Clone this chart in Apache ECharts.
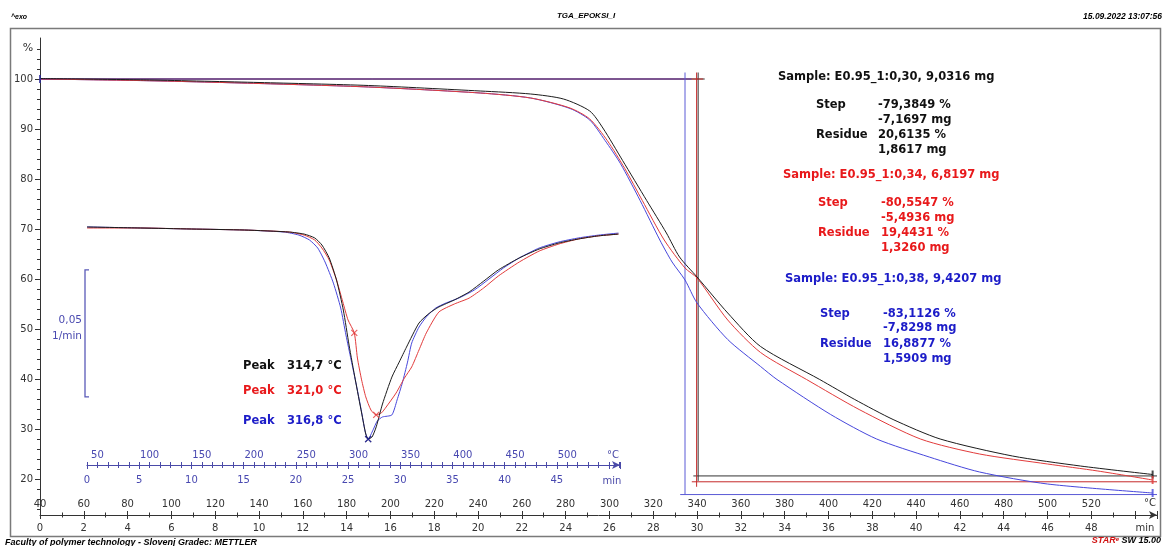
<!DOCTYPE html>
<html><head><meta charset="utf-8">
<script src="https://cdn.jsdelivr.net/npm/echarts@6/dist/echarts.min.js"></script>
<style>html,body{margin:0;padding:0;background:#fff}#c{width:1163px;height:546px}</style>
</head><body><div id="c"></div>
<script>
// ---------- DATA ----------
// Main TGA curves: [time (min), mass (%)]
const tgaBlack = [[0,100.1],[5,99.8],[10,99.3],[15,98.7],[20.1,97.6],[22.4,97.0],[23.9,96.0],[25.1,93.6],[25.7,90.2],[26.6,83.7],[27.7,75.7],[28.6,69.2],[29.2,64.4],[30.0,60.4],[31.4,53.2],[32.9,46.5],[35.6,39.9],[37.2,35.9],[38.95,31.9],[41.1,28.0],[44.4,24.6],[47.5,22.6],[50.8,20.9]];
const tgaRed   = [[0,100.0],[5,99.65],[10,99.1],[15,98.4],[20.1,97.2],[22.4,96.2],[24.2,94.2],[25.1,92.0],[25.9,87.7],[26.7,82.1],[27.5,75.7],[28.5,67.8],[29.45,62.2],[30.0,60.2],[31.4,51.8],[32.9,45.3],[35.0,39.9],[37.4,33.9],[40.2,28.0],[42.9,25.0],[46.0,23.0],[48.3,21.6],[50.8,19.8]];
const tgaBlue  = [[0,100.0],[5,99.65],[10,99.1],[15,98.4],[20.1,97.2],[22.4,96.2],[24.2,94.1],[25.1,91.8],[25.8,87.7],[26.5,83.1],[27.4,75.7],[28.3,67.8],[28.86,63.4],[29.45,59.8],[30.0,55.2],[31.4,47.9],[32.9,42.5],[33.65,39.9],[36.1,32.9],[38.2,28.0],[40.6,24.4],[42.9,21.4],[46.0,19.0],[50.8,17.2]];
// Inset DTG curves: [time (min), dm/dt (1/min)]
const dtgBlack = [[0,0.0004],[5.1,0],[10.0,-0.0004],[15.1,-0.0008],[19.4,-0.0016],[20.8,-0.0024],[21.8,-0.0039],[22.5,-0.0067],[23.2,-0.0118],[23.9,-0.0205],[24.55,-0.0323],[25.1,-0.0461],[25.7,-0.0598],[26.3,-0.0728],[26.7,-0.0811],[26.93,-0.0831],[27.3,-0.0823],[27.7,-0.0783],[28.3,-0.0693],[29.2,-0.0587],[29.9,-0.0528],[30.6,-0.0469],[31.8,-0.0374],[32.8,-0.0335],[33.7,-0.0311],[35.2,-0.0283],[36.6,-0.0252],[38.0,-0.0209],[39.4,-0.0165],[41.4,-0.0118],[43.3,-0.0083],[45.2,-0.0059],[47.1,-0.0043],[49.0,-0.0031],[50.9,-0.0024]];
const dtgRed   = [[0,0],[5.1,0],[10.0,-0.0004],[15.1,-0.0008],[19.4,-0.0016],[20.8,-0.0028],[21.8,-0.0047],[22.5,-0.0079],[23.2,-0.0126],[23.9,-0.0205],[24.5,-0.0291],[25.0,-0.0362],[25.6,-0.0413],[25.9,-0.0512],[26.3,-0.0598],[26.7,-0.0665],[27.2,-0.0717],[27.7,-0.0736],[28.2,-0.0728],[28.65,-0.0705],[29.6,-0.0650],[30.4,-0.0591],[31.1,-0.0547],[31.8,-0.0480],[32.5,-0.0413],[33.7,-0.0331],[35.2,-0.0299],[36.6,-0.0276],[38.0,-0.0236],[39.4,-0.0189],[41.4,-0.0134],[43.3,-0.0091],[45.2,-0.0063],[47.1,-0.0043],[49.0,-0.0031],[50.9,-0.0024]];
const dtgBlue  = [[0,0.0004],[5.1,0],[10.0,-0.0004],[15.1,-0.0008],[18.9,-0.0016],[20.3,-0.0028],[21.3,-0.0047],[22.1,-0.0079],[22.8,-0.0134],[23.6,-0.0217],[24.3,-0.0315],[24.8,-0.0421],[25.3,-0.0520],[25.8,-0.0618],[26.3,-0.0724],[26.65,-0.0803],[26.93,-0.0831],[27.4,-0.0795],[27.8,-0.0760],[28.3,-0.0744],[29.2,-0.0736],[29.7,-0.0677],[30.2,-0.0610],[30.7,-0.0528],[31.1,-0.0453],[31.8,-0.0390],[32.5,-0.0350],[33.4,-0.0315],[34.4,-0.0295],[35.6,-0.0276],[37.1,-0.0244],[38.5,-0.0201],[39.9,-0.0157],[41.4,-0.0118],[43.3,-0.0079],[45.2,-0.0055],[47.1,-0.0039],[49.0,-0.0028],[50.9,-0.0020]];
// Peak markers on DTG: [time, value]
const peakBlack = [[26.93,-0.0831]];
const peakRed   = [[25.6,-0.0413],[27.7,-0.0736]];
const peakBlue  = [[26.93,-0.0831]];
// Step evaluation (black, red, blue)
const startLevel = 100;
const limitTime  = [30.05, 29.98, 29.45];
const residueLvl = [20.6135, 19.4431, 16.8877];
// Scale bar for DTG: top value and span (1/min)
const scaleBarTop = -0.0165, scaleBarSpan = 0.05;
// Tick values
const yMajor = [20,30,40,50,60,70,80,90,100];
const yMinor = [14,16,18,22,24,26,28,32,34,36,38,42,44,46,48,52,54,56,58,62,64,66,68,72,74,76,78,82,84,86,88,92,94,96,98,102,104,106];
// Texts
const sampleNames = ['Sample: E0.95_1:0,30, 9,0316 mg','Sample: E0.95_1:0,34, 6,8197 mg','Sample: E0.95_1:0,38, 9,4207 mg'];
const stepPct  = ['-79,3849 %','-80,5547 %','-83,1126 %'];
const stepMg   = ['-7,1697 mg','-5,4936 mg','-7,8298 mg'];
const resPct   = ['20,6135 %','19,4431 %','16,8877 %'];
const resMg    = ['1,8617 mg','1,3260 mg','1,5909 mg'];
const peakText = ['314,7 °C','321,0 °C','316,8 °C'];

// ---------- STYLE ----------
const C = ['#1c1c1c','#e23b3b','#4747dc'];
const T = ['#111111','#e8191b','#1c1cc8'];
const AXI = '#4a4aa8';
const F = 'DejaVu Sans';

const chart = echarts.init(document.getElementById('c'));

function ln(data, color, xi, yi, extra){
  return Object.assign({type:'line', data, xAxisIndex:xi, yAxisIndex:yi, showSymbol:false, symbol:'none',
    lineStyle:{color, width:1}, itemStyle:{color}, silent:true, z:3}, extra||{});
}
const series = [];
for (let i=0;i<3;i++){
  const lt = limitTime[i], r = residueLvl[i];
  const vc = i===0 ? '#333' : (i===1 ? '#c52a2a' : '#5a5ad6');
  series.push(ln([[0,startLevel],[lt+0.3,startLevel]], i===2?'#4a4ac0':vc, 0, 0, {z:2}));
  series.push(ln([[lt,101.3],[lt, i===2 ? r : r-1.0]], vc, 0, 0, {z:2}));
  series.push(ln([[lt-0.22,r],[51,r]], vc, 0, 0, {z:2}));
}
series.push(ln(tgaBlue, C[2], 0, 0, {smooth:0.25}));
series.push(ln(tgaRed, C[1], 0, 0, {smooth:0.25}));
series.push(ln(tgaBlack, C[0], 0, 0, {smooth:0.25}));
series.push(ln(dtgBlue, C[2], 2, 2, {smooth:0.2}));
series.push(ln(dtgRed, C[1], 2, 2, {smooth:0.2}));
series.push(ln(dtgBlack, C[0], 2, 2, {smooth:0.2}));
const endMk = (d,c)=>({type:'scatter', xAxisIndex:0, yAxisIndex:0, data:[d], symbol:'rect', symbolSize:[2,8], itemStyle:{color:c}, silent:true, z:5});
series.push(endMk(tgaBlack[tgaBlack.length-1], C[0]));
series.push(endMk(tgaRed[tgaRed.length-1], C[1]));
series.push(endMk(tgaBlue[tgaBlue.length-1], C[2]));
series.push(endMk(tgaBlue[0], '#2a2a9a'));
const cross = 'path://M0 0L10 10M10 0L0 10';
const pk = (d,c)=>({type:'scatter', xAxisIndex:2, yAxisIndex:2, data:d, symbol:cross, symbolSize:6, itemStyle:{color:'none', borderColor:c, borderWidth:1.2}, silent:true, z:5});
series.push(pk(peakRed, C[1]));
series.push(pk(peakBlack, C[0]));
series.push(pk(peakBlue, '#2020b0'));

// ---------- TEXTS ----------
const g = [];
function tx(x,y,text,fill,font,align){ g.push({type:'text', silent:true, z:10, style:{x,y,text,fill,font,align:align||'left',verticalAlign:'middle'}}); }
const bold = 'bold 11.5px "'+F+'"';
tx(11,17,'^exo','#000','bold italic 7px "Liberation Sans"');
tx(586,16,'TGA_EPOKSI_I','#000','bold italic 8px "Liberation Sans"','center');
tx(1162,17,'15.09.2022 13:07:56','#000','bold italic 8.5px "Liberation Sans"','right');
tx(5,543,'Faculty of polymer technology - Slovenj Gradec: METTLER','#000','bold italic 9px "Liberation Sans"');
g.push({type:'text', silent:true, z:10, style:{x:1161,y:541,align:'right',verticalAlign:'middle',
  text:'{r|STAR}{e|e} SW 15.00', fill:'#000', font:'bold italic 9px "Liberation Sans"',
  rich:{r:{fill:'#d01010',font:'bold italic 9px "Liberation Sans"'},e:{fill:'#d01010',font:'bold italic 6px "Liberation Sans"',verticalAlign:'top'}}}});
g.push({type:'rect', silent:true, z:0, shape:{x:10.5,y:28.5,width:1150,height:508}, style:{fill:'none',stroke:'#7a7a7a',lineWidth:1.5}});
tx(28,48,'%','#333','11px "'+F+'"','center');
tx(1150,503,'°C','#333','10px "'+F+'"','center');
tx(1145,528,'min','#333','10px "'+F+'"','center');
tx(613,455,'°C',AXI,'10px "'+F+'"','center');
tx(612,481,'min',AXI,'10px "'+F+'"','center');
tx(82,320,'0,05','#4a4ab0','10.5px "'+F+'"','right');
tx(82,336,'1/min','#4a4ab0','10.5px "'+F+'"','right');
const peakY = [366,391,421];
for (let i=0;i<3;i++){ tx(243,peakY[i],'Peak',T[i],bold); tx(287,peakY[i],peakText[i],T[i],bold); }
const blk = [{sx:778,sy:77,lx:816,vx:878,rows:[105,120,135,150]},{sx:783,sy:175,lx:818,vx:881,rows:[203,218,233,248]},{sx:785,sy:279,lx:820,vx:883,rows:[314,328,344,359]}];
for (let i=0;i<3;i++){
  const b = blk[i];
  tx(b.sx,b.sy,sampleNames[i],T[i],bold);
  tx(b.lx,b.rows[0],'Step',T[i],bold);
  tx(b.vx,b.rows[0],stepPct[i],T[i],bold);
  tx(b.vx,b.rows[1],stepMg[i],T[i],bold);
  tx(b.lx,b.rows[2],'Residue',T[i],bold);
  tx(b.vx,b.rows[2],resPct[i],T[i],bold);
  tx(b.vx,b.rows[3],resMg[i],T[i],bold);
}

const lblMain = {color:'#333', fontFamily:F, fontSize:10};
const lblIn = {color:'#4848b0', fontFamily:F, fontSize:10};
const option = {
  animation:false,
  backgroundColor:'#fff',
  grid:[{left:40, top:38, width:1117, height:477},{left:87, top:200, width:533, height:265}],
  xAxis:[
    {gridIndex:0, type:'value', min:0, max:51, interval:2, position:'bottom',
     axisLine:{show:true, onZero:false, symbol:['none','arrow'], symbolSize:[6,8], lineStyle:{color:'#333',width:1}},
     axisTick:{show:true, length:4, lineStyle:{color:'#333'}},
     minorTick:{show:true, splitNumber:2, length:2.5, lineStyle:{color:'#333'}},
     axisLabel:Object.assign({margin:8, formatter:v=> v>=50?'':String(v)}, lblMain),
     splitLine:{show:false}},
    {gridIndex:0, type:'value', min:40, max:550, interval:20, position:'bottom',
     axisLine:{show:false, onZero:false},
     axisTick:{show:true, inside:true, length:4, lineStyle:{color:'#333'}},
     minorTick:{show:true, splitNumber:2, length:2.5, lineStyle:{color:'#333'}},
     axisLabel:Object.assign({inside:true, margin:6, formatter:v=> v>=540?'':String(v)}, lblMain),
     splitLine:{show:false}},
    {gridIndex:1, type:'value', min:0, max:51.05, interval:5, position:'bottom',
     axisLine:{show:true, onZero:false, symbol:['none','arrow'], symbolSize:[6,8], lineStyle:{color:AXI,width:1.2}},
     axisTick:{show:true, length:4, lineStyle:{color:AXI}},
     minorTick:{show:true, splitNumber:5, length:3, lineStyle:{color:AXI}},
     axisLabel:Object.assign({margin:10, formatter:v=> v>=50?'':String(v)}, lblIn),
     splitLine:{show:false}},
    {gridIndex:1, type:'value', min:40, max:550.5, interval:10, position:'bottom',
     axisLine:{show:false, onZero:false},
     axisTick:{show:true, inside:true, length:3, lineStyle:{color:AXI}},
     axisLabel:Object.assign({inside:true, margin:5, formatter:v=> (v%50===0 && v<=500)?String(v):''}, lblIn),
     splitLine:{show:false}}
  ],
  yAxis:[
    {gridIndex:0, type:'value', min:12.8, max:108.2, position:'left',
     axisLine:{show:true, onZero:false, lineStyle:{color:'#333',width:1}},
     axisTick:{show:true, length:5, customValues:yMajor, lineStyle:{color:'#333'}},
     axisLabel:Object.assign({margin:7, customValues:yMajor}, lblMain),
     splitLine:{show:false}},
    {gridIndex:0, type:'value', min:12.8, max:108.2, position:'left',
     axisLine:{show:false, onZero:false},
     axisTick:{show:true, length:3, customValues:yMinor, lineStyle:{color:'#333'}},
     axisLabel:{show:false}, splitLine:{show:false}},
    {gridIndex:1, type:'value', min:-0.09331, max:0.01102, show:false, splitLine:{show:false}}
  ],
  series,
  graphic:g
};
chart.setOption(option);
const pTop = chart.convertToPixel({gridIndex:1}, [0, scaleBarTop]);
const pBot = chart.convertToPixel({gridIndex:1}, [0, scaleBarTop - scaleBarSpan]);
const bx = pTop[0] - 2;
g.push({type:'polyline', silent:true, z:6, shape:{points:[[bx+4,pTop[1]],[bx,pTop[1]],[bx,pBot[1]],[bx+4,pBot[1]]]}, style:{stroke:'#5a5ab8', lineWidth:1.3, fill:'none'}});
chart.setOption({graphic:g});
</script></body></html>
